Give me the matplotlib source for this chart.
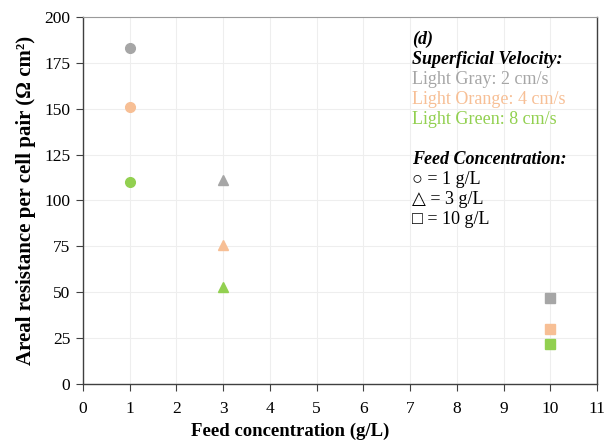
import matplotlib.pyplot as plt

plt.rcParams['font.family'] = ['Liberation Serif', 'DejaVu Serif']

# areal resistance per cell pair (Ohm cm2) at each feed concentration
feed_conc = [1, 3, 10]
res_2cms = [183, 111, 47]
res_4cms = [151, 76, 30]
res_8cms = [110, 53, 22]
markers = ['o', '^', 's']
colors = ['#a6a6a6', '#f7bf95', '#92d050']

fig = plt.figure(figsize=(6.13, 4.47), dpi=100)
ax = fig.add_axes([0.135, 0.141, 0.839, 0.821])

for series, c in zip([res_2cms, res_4cms, res_8cms], colors):
    for x, y, m in zip(feed_conc, series, markers):
        ms = 7 if m != '^' else 6.5
        ax.plot(x, y, marker=m, color=c, markersize=ms, linestyle='none', zorder=3)

ax.set_xlim(0, 11)
ax.set_ylim(0, 200)
ax.set_xticks(range(0, 12))
ax.set_yticks(range(0, 201, 25))
ax.grid(True, color='#eeeeee', linewidth=0.8)
ax.set_axisbelow(True)
ax.spines['top'].set_color('#9a9a9a')
for s in ['left', 'bottom', 'right']:
    ax.spines[s].set_color('#404040')
    ax.spines[s].set_linewidth(1.0)
ax.tick_params(direction='out', length=5, color='#404040', labelsize=12.5, pad=4)
ax.tick_params(axis='x', top=False, pad=7)

ax.set_xlabel('Feed concentration (g/L)', fontsize=13.5, fontweight='bold')
ax.xaxis.set_label_coords(0.403, -0.105)
ax.set_ylabel('Areal resistance per cell pair (\u03a9 cm\u00b2)', fontsize=15,
              fontweight='bold', labelpad=6)

# annotation block
tx = 0.64
lines = [
    ('(d)', 'black', 'bold', 'italic'),
    ('Superficial Velocity:', 'black', 'bold', 'italic'),
    ('Light Gray: 2 cm/s', colors[0], 'normal', 'normal'),
    ('Light Orange: 4 cm/s', colors[1], 'normal', 'normal'),
    ('Light Green: 8 cm/s', colors[2], 'normal', 'normal'),
    ('', 'black', 'normal', 'normal'),
    ('Feed Concentration:', 'black', 'bold', 'italic'),
    ('\u25cb = 1 g/L', 'black', 'normal', 'normal'),
    ('\u25b3 = 3 g/L', 'black', 'normal', 'normal'),
    ('\u25a1 = 10 g/L', 'black', 'normal', 'normal'),
]
y0 = 0.94
dy = 0.0545
for i, (txt, c, w, st) in enumerate(lines):
    if txt:
        ax.text(tx, y0 - i * dy, txt, transform=ax.transAxes, color=c,
                fontsize=13, fontweight=w, fontstyle=st, va='center',
                family=['Liberation Serif', 'DejaVu Sans'])

fig.savefig('out.png', dpi=100)
